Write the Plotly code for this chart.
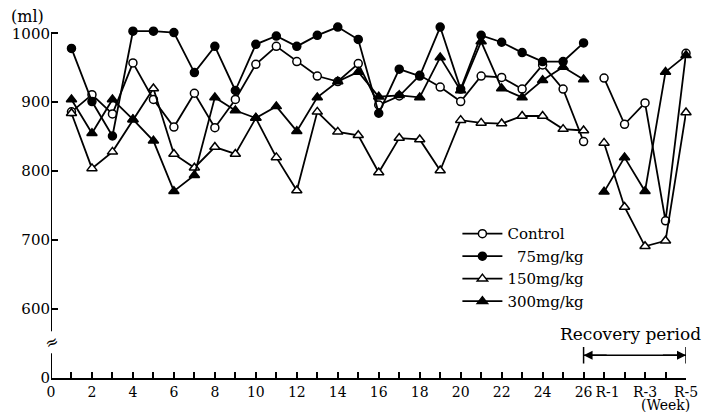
import plotly.graph_objects as go

# ---- data (ml) ----
weeks = list(range(1, 27))                # dosing weeks 1..26
recovery_x = [27, 28, 29, 30, 31]         # R-1 .. R-5 positions on the axis
recovery_labels = ["\u2002R-1", "R-2", "R-3", "R-4", "R-5"]

control = [886, 911, 883, 957, 904, 864, 913, 863, 904, 955, 981, 959, 938, 930, 956,
           896, 909, 939, 922, 901, 938, 936, 919, 954, 919, 843]
control_rec = [935, 868, 899, 728, 971]

dose75 = [978, 901, 851, 1003, 1003, 1001, 943, 981, 917, 984, 996, 981, 997, 1009, 991,
          884, 948, 938, 1009, 919, 997, 987, 972, 959, 959, 986]

dose150 = [884, 804, 828, 875, 920, 825, 805, 835, 825, 877, 820, 772, 886, 857, 852,
           798, 848, 846, 801, 874, 870, 869, 880, 880, 861, 859]
dose150_rec = [841, 748, 691, 699, 885]

dose300 = [904, 855, 904, 875, 844, 771, 794, 907, 888, 877, 894, 858, 907, 930, 944,
           908, 910, 907, 965, 917, 988, 920, 907, 932, 951, 933]
dose300_rec = [770, 820, 771, 944, 968]

y_tickvals = [500, 600, 700, 800, 900, 1000]
y_ticktext = ["0", "600", "700", "800", "900", "1000"]

FONT = "DejaVu Serif"


def join(main, rec):
    xs = weeks + [None]
    ys = main + [None]
    if rec is not None:
        xs += recovery_x
        ys += rec
    return xs, ys


series = [
    ("Control", control, control_rec, "circle", "white", 8),
    ("\u00a0\u00a075mg/kg", dose75, None, "circle", "black", 8),
    ("150mg/kg", dose150, dose150_rec, "triangle-up", "white", 9),
    ("300mg/kg", dose300, dose300_rec, "triangle-up", "black", 9),
]

fig = go.Figure()
for name, main, rec, sym, fill, size in series:
    xs, ys = join(main, rec)
    fig.add_trace(go.Scatter(
        x=xs, y=ys, name=name, mode="lines+markers",
        line=dict(color="black", width=1.8),
        marker=dict(symbol=sym, size=size, color=fill,
                    line=dict(color="black", width=1.5)),
        cliponaxis=False, connectgaps=False,
    ))

x_tickvals = list(range(0, 32))
x_ticktext = [str(i) if i % 2 == 0 else "" for i in range(0, 27)]
x_ticktext += [lab if k % 2 == 0 else "" for k, lab in enumerate(recovery_labels)]

fig.update_layout(
    width=710, height=412,
    margin=dict(l=48, r=21, t=25, b=34),
    paper_bgcolor="white", plot_bgcolor="white",
    font=dict(family=FONT, size=15, color="black"),
    showlegend=True,
    legend=dict(x=0.64, y=0.455, xanchor="left", yanchor="top",
                bgcolor="rgba(0,0,0,0)", font=dict(family=FONT, size=15),
                itemwidth=40, tracegroupgap=0),
    xaxis=dict(range=[0, 31], tickmode="array", tickvals=x_tickvals, ticktext=x_ticktext,
               ticks="inside", ticklen=6, tickwidth=1.5, tickcolor="black",
               showline=True, linecolor="black", linewidth=2, showgrid=False, zeroline=False,
               tickangle=0, tickfont=dict(family=FONT, size=14)),
    yaxis=dict(range=[500, 1012], tickmode="array", tickvals=y_tickvals, ticktext=y_ticktext,
               ticks="inside", ticklen=7, tickwidth=1.5, tickcolor="black",
               showline=False, showgrid=False, zeroline=False,
               tickfont=dict(family=FONT, size=15)),
)

# y axis line drawn only up to 1000
fig.add_shape(type="line", x0=0, x1=0, y0=500, y1=1000, xref="x", yref="y",
              line=dict(color="black", width=2))

# axis break mark on y axis
fig.add_annotation(x=0, y=552, xref="x", yref="y", text="≈", showarrow=False,
                   font=dict(size=16, family=FONT), textangle=-25, bgcolor="white",
                   borderpad=0)

# unit labels
fig.add_annotation(x=-0.066, y=1.0, xref="paper", yref="paper", yanchor="bottom", yshift=-3,
                   xanchor="left", text="(ml)", showarrow=False, font=dict(size=16, family=FONT))
fig.add_annotation(x=30.0, y=0, xref="x", yref="paper", xanchor="center", yanchor="top", yshift=-18,
                   text="(Week)", showarrow=False, font=dict(size=14, family=FONT), borderpad=0)

# recovery period bracket
fig.add_annotation(x=28.3, y=547, xref="x", yref="y", yanchor="bottom", text="Recovery period",
                   showarrow=False, font=dict(size=17, family=FONT))
fig.add_shape(type="line", x0=26, x1=31, y0=533, y1=533, xref="x", yref="y",
              line=dict(color="black", width=1.5))
for end, tail in ((26, 27.2), (31, 29.8)):
    fig.add_annotation(x=end, y=533, ax=tail, ay=533, xref="x", yref="y", axref="x", ayref="y",
                       text="", showarrow=True, arrowhead=2, arrowsize=1.2, arrowwidth=1.5,
                       arrowcolor="black", standoff=0)
    fig.add_shape(type="line", x0=end, x1=end, y0=521, y1=545, xref="x", yref="y",
                  line=dict(color="black", width=1.5))

fig.write_html("out.html")
